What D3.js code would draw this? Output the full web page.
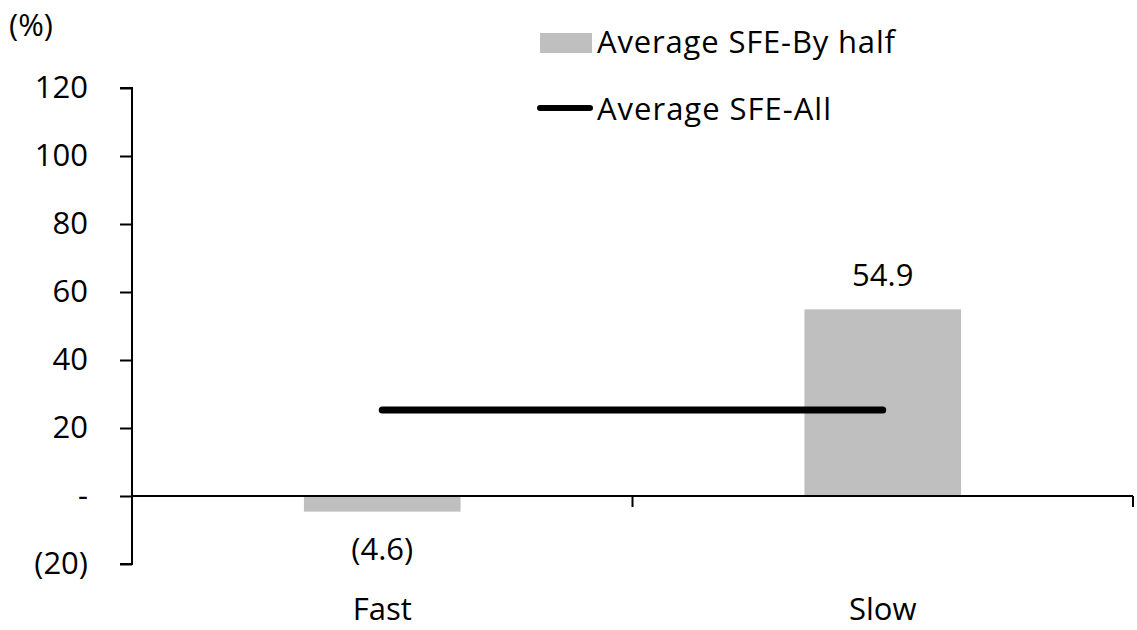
<!DOCTYPE html>
<html>
<head>
<meta charset="utf-8">
<script src="https://cdn.jsdelivr.net/npm/d3@7"></script>
<style>
  html, body { margin: 0; padding: 0; background: #fff; }
  svg text { font-family: "Open Sans", "Noto Sans", sans-serif; fill: #000; }
</style>
</head>
<body>
<svg id="chart" width="1137" height="630"></svg>
<script>
// Categories and series
const categories = ["Fast", "Slow"];
const sfeByHalf = [-4.6, 54.9];      // bars
const sfeAll = [25.3, 25.3];         // line across categories
const yTicks = [-20, 0, 20, 40, 60, 80, 100, 120];
const yTickLabels = ["(20)", "-", "20", "40", "60", "80", "100", "120"];
const barLabels = ["(4.6)", "54.9"];
const legendLabels = ["Average SFE-By half", "Average SFE-All"];

const svg = d3.select("#chart");
const fontSize = 31;

const x = d3.scaleBand().domain(categories).range([132, 1133]).padding(0);
const y = d3.scaleLinear().domain([-20, 120]).range([564, 88]);

const barW = x.bandwidth() * 0.313;

// Bars
svg.selectAll("rect.bar").data(categories).enter().append("rect")
  .attr("class", "bar")
  .attr("x", (d) => x(d) + x.bandwidth() / 2 - barW / 2)
  .attr("width", barW)
  .attr("y", (d, i) => y(Math.max(0, sfeByHalf[i])))
  .attr("height", (d, i) => Math.abs(y(sfeByHalf[i]) - y(0)))
  .attr("fill", "#bfbfbf");

// Y axis
const yAxis = d3.axisLeft(y).tickValues(yTicks).tickSize(12).tickPadding(32)
  .tickFormat((d, i) => yTickLabels[i]);
const gy = svg.append("g").attr("transform", "translate(132,0)").call(yAxis);
gy.select(".domain").attr("stroke", "#000").attr("stroke-width", 2).attr("d", "M-12,564H0V88H-12");
gy.selectAll(".tick line").attr("stroke", "#000").attr("stroke-width", 2);
gy.selectAll(".tick text").attr("font-size", fontSize).attr("font-family", "Open Sans").attr("fill", "#000");

// X axis along zero with ticks at category boundaries
const boundaries = categories.map((c) => x(c) + x.bandwidth());
svg.append("line").attr("x1", 132).attr("x2", 1133).attr("y1", y(0)).attr("y2", y(0))
  .attr("stroke", "#000").attr("stroke-width", 2);
svg.selectAll("line.xtick").data(boundaries).enter().append("line")
  .attr("class", "xtick")
  .attr("x1", (d) => d).attr("x2", (d) => d)
  .attr("y1", y(0)).attr("y2", y(0) + 11)
  .attr("stroke", "#000").attr("stroke-width", 2);

// Category labels
svg.selectAll("text.cat").data(categories).enter().append("text")
  .attr("class", "cat")
  .attr("x", (d) => x(d) + x.bandwidth() / 2)
  .attr("y", 620)
  .attr("text-anchor", "middle")
  .attr("font-size", fontSize)
  .text((d) => d);

// Line series
const line = d3.line()
  .x((d, i) => x(categories[i]) + x.bandwidth() / 2)
  .y((d) => y(d));
svg.append("path").datum(sfeAll)
  .attr("d", line)
  .attr("fill", "none")
  .attr("stroke", "#000")
  .attr("stroke-width", 7)
  .attr("stroke-linecap", "round");

// Bar value labels
svg.selectAll("text.val").data(categories).enter().append("text")
  .attr("class", "val")
  .attr("x", (d) => x(d) + x.bandwidth() / 2)
  .attr("y", (d, i) => sfeByHalf[i] >= 0 ? y(sfeByHalf[i]) - 23 : y(sfeByHalf[i]) + 48)
  .attr("text-anchor", "middle")
  .attr("font-size", fontSize)
  .text((d, i) => barLabels[i]);

// Unit label
svg.append("text").attr("x", 9).attr("y", 36).attr("font-size", fontSize).text("(%)");

// Legend
svg.append("rect").attr("x", 540).attr("y", 33).attr("width", 52).attr("height", 20).attr("fill", "#bfbfbf");
svg.append("text").attr("x", 597).attr("y", 53).attr("font-size", fontSize)
  .attr("textLength", 298).attr("lengthAdjust", "spacing").text(legendLabels[0]);
svg.append("line").attr("x1", 540).attr("x2", 590).attr("y1", 108).attr("y2", 108)
  .attr("stroke", "#000").attr("stroke-width", 6).attr("stroke-linecap", "round");
svg.append("text").attr("x", 597).attr("y", 120).attr("font-size", fontSize)
  .attr("textLength", 234).attr("lengthAdjust", "spacing").text(legendLabels[1]);
</script>
</body>
</html>
